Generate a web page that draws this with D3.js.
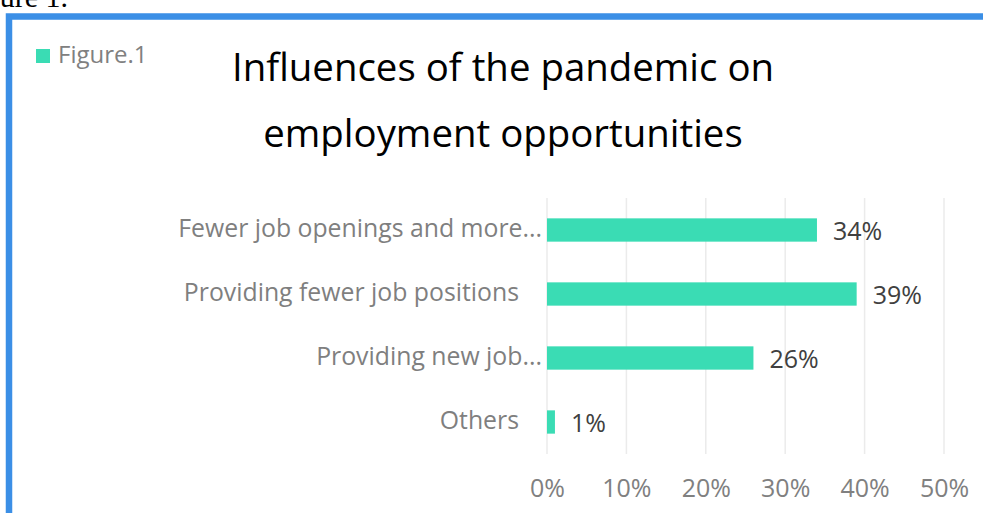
<!DOCTYPE html>
<html><head><meta charset="utf-8">
<script src="https://cdn.jsdelivr.net/npm/d3@7"></script>
<style>html,body{margin:0;padding:0;background:#fff;overflow:hidden}</style>
</head><body>
<svg id="c" width="983" height="513"></svg>
<script>
const categories = ["Fewer job openings and more...", "Providing fewer job positions", "Providing new job...", "Others"];
const values = [34, 39, 26, 1];
const tickValues = [0, 10, 20, 30, 40, 50];
const titleLines = ["Influences of the pandemic on", "employment opportunities"];
const legendLabel = "Figure.1";
const captionText = "Figure 1.";

const svg = d3.select("#c");
const FONT = "'Open Sans', 'Noto Sans', sans-serif";
const GREEN = "#3adcb4";

// caption cut off at the top
svg.append("text").attr("x", 68).attr("y", 7).attr("text-anchor", "end")
  .attr("font-family", "'Liberation Serif', 'Times New Roman', serif").attr("font-size", 30)
  .attr("fill", "#000").text(captionText);

// blue frame
svg.append("rect").attr("x", 9).attr("y", 16.5).attr("width", 1100).attr("height", 1000)
  .attr("fill", "#fff").attr("stroke", "#3b8fe6").attr("stroke-width", 6.5);

// legend
svg.append("rect").attr("x", 36).attr("y", 49).attr("width", 14).attr("height", 14).attr("fill", GREEN);
svg.append("text").attr("x", 58).attr("y", 63).attr("font-family", FONT).attr("font-size", 24)
  .attr("fill", "#808080").text(legendLabel);

// title
const title = svg.append("text").attr("text-anchor", "middle").attr("font-family", FONT)
  .attr("font-size", 38.4).attr("fill", "#000");
titleLines.forEach((t, i) => title.append("tspan").attr("x", 503).attr("y", 81 + i * 66).text(t));

const x = d3.scaleLinear().domain([0, 50]).range([547, 944]);
const y = d3.scaleBand().domain(categories).range([198, 454]).paddingInner(0.636).paddingOuter(0.318);

// grid
svg.append("g").selectAll("line").data(tickValues).join("line")
  .attr("x1", d => x(d)).attr("x2", d => x(d)).attr("y1", 198).attr("y2", 454)
  .attr("stroke", "#ebebeb").attr("stroke-width", 1.5);

// x axis labels
const xAxis = d3.axisBottom(x).tickValues(tickValues).tickSize(0).tickPadding(0).tickFormat(d => d + "%");
const gx = svg.append("g").attr("transform", "translate(0,497)").call(xAxis);
gx.select(".domain").remove();
gx.selectAll("text").attr("font-family", FONT).attr("font-size", 25).attr("fill", "#808080").attr("dy", 0);

// y axis labels
const yAxis = d3.axisLeft(y).tickSize(0).tickPadding(0);
const gy = svg.append("g").attr("transform", "translate(542,0)").call(yAxis);
gy.select(".domain").remove();
gy.selectAll("text").attr("font-family", FONT).attr("font-size", 24.8).attr("fill", "#7f7f7f")
  .attr("dy", "0.3em").attr("x", d => d.endsWith("...") ? 0 : -23);

// bars
svg.append("g").selectAll("rect").data(values).join("rect")
  .attr("x", x(0)).attr("y", (d, i) => y(categories[i]))
  .attr("width", d => x(d) - x(0)).attr("height", y.bandwidth())
  .attr("fill", GREEN);

// value labels
svg.append("g").selectAll("text").data(values).join("text")
  .attr("x", d => x(d) + 16).attr("y", (d, i) => y(categories[i]) + y.bandwidth() / 2)
  .attr("dy", "0.39em").attr("font-family", FONT).attr("font-size", 25).attr("fill", "#404040")
  .text(d => d + "%");
</script>
</body></html>
